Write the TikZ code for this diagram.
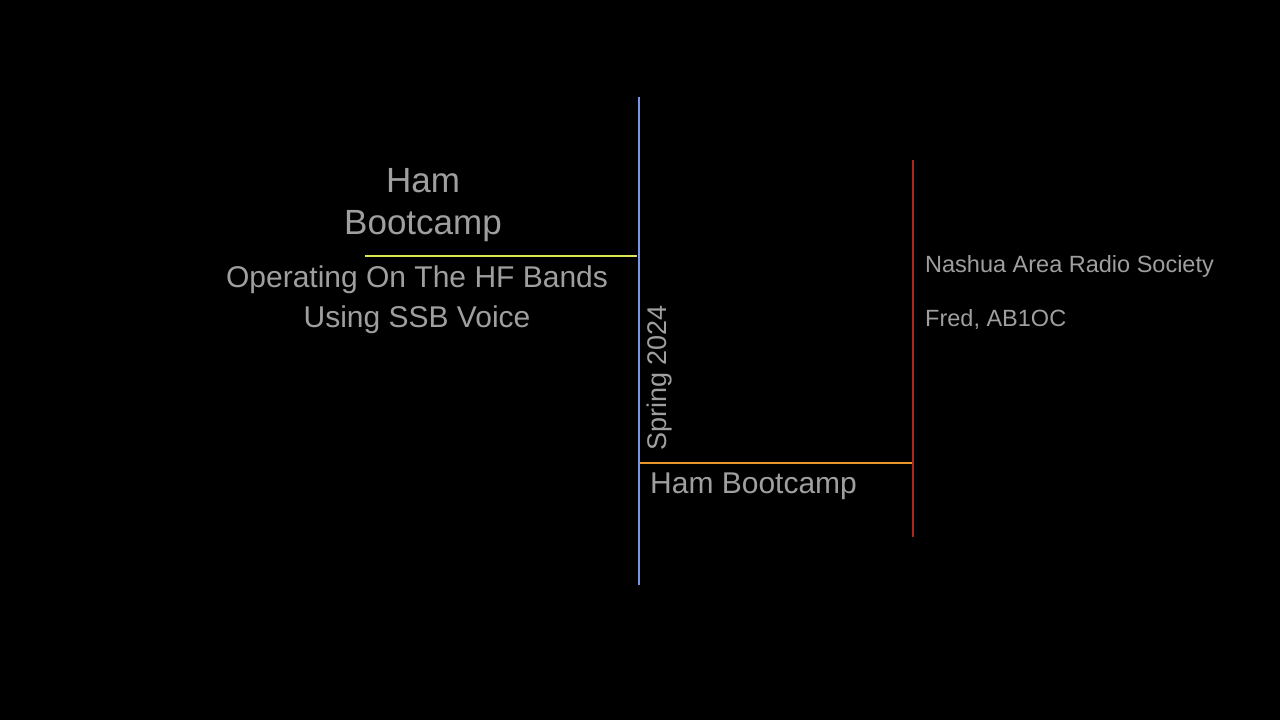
\documentclass[tikz,border=0pt]{standalone}
\usepackage{fontspec}
\setmainfont{Liberation Sans}
\begin{document}
\begin{tikzpicture}[x=1pt,y=-1pt,
  txt/.style={text=gray!75!white,inner sep=0pt},
  ln/.style={line width=1.5pt}]
\fill[black] (0,0) rectangle (1280,720);
\definecolor{lblue}{RGB}{120,150,230}
\definecolor{lyel}{RGB}{220,230,80}
\definecolor{lora}{RGB}{230,150,40}
\definecolor{lred}{RGB}{170,40,30}
\coordinate (b1) at (639,97); \coordinate (b2) at (639,585);
\coordinate (y1) at (365,256); \coordinate (y2) at (637,256);
\coordinate (o1) at (640,463); \coordinate (o2) at (912,463);
\coordinate (r1) at (913,160); \coordinate (r2) at (913,537);
\draw[ln,lblue] (b1)--(b2);
\draw[ln,lyel] (y1)--(y2);
\draw[ln,lora] (o1)--(o2);
\draw[ln,lred] (r1)--(r2);
\node[txt,font=\fontsize{35}{42}\selectfont,align=center] (t) at (423,205) {Ham\\Bootcamp};
\node[txt,font=\fontsize{30}{40}\selectfont,align=center] (s) at (417,300) {Operating On The HF Bands\\Using SSB Voice};
\node[txt,font=\fontsize{27}{32}\selectfont,rotate=90] (sp) at (660,378) {Spring 2024};
\node[txt,font=\fontsize{30}{36}\selectfont,anchor=west] (hb) at (650,486) {Ham Bootcamp};
\node[txt,font=\fontsize{23.5}{28}\selectfont,anchor=west] (n) at (925,266) {Nashua Area Radio Society};
\node[txt,font=\fontsize{23.5}{28}\selectfont,anchor=west] (f) at (925,319) {Fred, AB1OC};
\end{tikzpicture}
\end{document}
